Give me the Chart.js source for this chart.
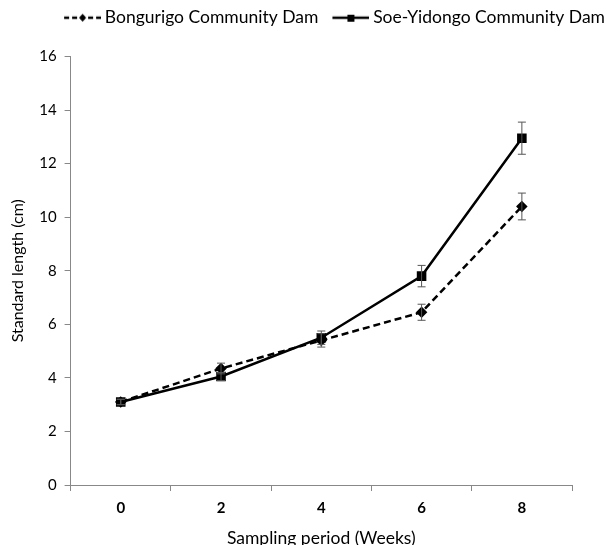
<!DOCTYPE html>
<html>
<head>
<meta charset="utf-8">
<script src="https://cdn.jsdelivr.net/npm/chart.js@4"></script>
<style>
  html, body { margin: 0; padding: 0; background: #fff; }
  #wrap { width: 607px; height: 545px; }
</style>
</head>
<body>
<div id="wrap"><canvas id="chart"></canvas></div>
<script>
// Sampling weeks (x categories)
const weeks = ['0', '2', '4', '6', '8'];

// Mean standard length (cm) per dam
const bongurigo = [3.1, 4.35, 5.4, 6.45, 10.4];
const soeYidongo = [3.1, 4.05, 5.5, 7.8, 12.95];

// Error bar half-widths (cm)
const bongurigoErr = [0.1, 0.2, 0.25, 0.3, 0.5];
const soeYidongoErr = [0.1, 0.15, 0.25, 0.4, 0.6];

const fontFamily = 'Lato, "Open Sans", sans-serif';

// Legend icons: a short line with the marker in the middle
// (blank on the left so the icon sits a bit right of the legend box)
function legendIcon(dashed, shape) {
    let c = document.createElement('canvas');
    c.width = 48;
    c.height = 12;
    let g = c.getContext('2d');
    g.strokeStyle = '#000';
    g.lineWidth = 2.5;
    if (dashed) g.setLineDash([5, 3]);
    g.beginPath();
    g.moveTo(11, 6);
    g.lineTo(48, 6);
    g.stroke();
    g.fillStyle = '#000';
    if (shape === 'diamond') {
        g.beginPath();
        g.moveTo(29.5, 2);
        g.lineTo(33, 6);
        g.lineTo(29.5, 10);
        g.lineTo(26, 6);
        g.closePath();
        g.fill();
    } else {
        g.fillRect(26, 3, 7, 7);
    }
    return c;
}

// Draws the error bars from the scales
const errorBars = {
    id: 'errorBars',
    afterDatasetsDraw(chart) {
        const ctx = chart.ctx;
        const yScale = chart.scales.y;
        chart.data.datasets.forEach((ds, i) => {
            const meta = chart.getDatasetMeta(i);
            meta.data.forEach((pt, j) => {
                const top = yScale.getPixelForValue(ds.data[j] + ds.errors[j]);
                const bot = yScale.getPixelForValue(ds.data[j] - ds.errors[j]);
                ctx.save();
                ctx.strokeStyle = '#555';
                ctx.lineWidth = 1;
                ctx.beginPath();
                ctx.moveTo(pt.x, top);
                ctx.lineTo(pt.x, bot);
                ctx.moveTo(pt.x - 4, top);
                ctx.lineTo(pt.x + 4, top);
                ctx.moveTo(pt.x - 4, bot);
                ctx.lineTo(pt.x + 4, bot);
                ctx.stroke();
                ctx.restore();
            });
        });
    }
};

let ctx = document.getElementById('chart');

new Chart(ctx, {
    type: 'line',
    data: {
        labels: weeks,
        datasets: [{
            label: 'Bongurigo Community Dam',
            data: bongurigo,
            errors: bongurigoErr,
            borderColor: '#000',
            backgroundColor: '#000',
            borderWidth: 2.5,
            borderDash: [7, 4],
            pointStyle: 'rectRot',
            pointRadius: 4,
            tension: 0
        }, {
            label: 'Soe-Yidongo Community Dam',
            data: soeYidongo,
            errors: soeYidongoErr,
            borderColor: '#000',
            backgroundColor: '#000',
            borderWidth: 2.5,
            pointStyle: 'rect',
            pointRadius: 5,
            tension: 0
        }]
    },
    options: {
        responsive: true,
        maintainAspectRatio: false,
        animation: false,
        layout: {
            padding: { left: 4, right: -6, top: 1, bottom: -4 }
        },
        plugins: {
            legend: {
                position: 'top',
                align: 'end',
                labels: {
                    color: '#000',
                    font: { family: fontFamily, size: 17.5 },
                    usePointStyle: true,
                    pointStyleWidth: 38,
                    padding: 8,
                    generateLabels(chart) {
                        return chart.data.datasets.map((ds, i) => ({
                            text: ds.label,
                            datasetIndex: i,
                            pointStyle: legendIcon(i === 0, i === 0 ? 'diamond' : 'square'),
                            fontColor: '#000',
                            hidden: false
                        }));
                    }
                }
            },
            tooltip: { enabled: false }
        },
        scales: {
            x: {
                offset: true,
                grid: {
                    offset: true,
                    drawOnChartArea: false,
                    color: '#888',
                    tickLength: 6
                },
                border: { color: '#888' },
                ticks: {
                    color: '#000',
                    font: { family: fontFamily, size: 15, weight: 'bold' },
                    padding: 8
                },
                title: {
                    display: true,
                    text: 'Sampling period (Weeks)',
                    color: '#000',
                    font: { family: fontFamily, size: 17.5 },
                    padding: { top: 3, bottom: 0 }
                }
            },
            // spacer between legend and plot
            xTop: {
                position: 'top',
                display: true,
                grid: { display: false },
                border: { display: false },
                ticks: { display: false },
                afterFit(scale) { scale.height = 20; }
            },
            y: {
                min: 0,
                max: 16,
                grid: {
                    drawOnChartArea: false,
                    color: '#888',
                    tickLength: 6
                },
                border: { color: '#888' },
                ticks: {
                    stepSize: 2,
                    color: '#000',
                    font: { family: fontFamily, size: 15 },
                    padding: 8
                },
                title: {
                    display: true,
                    text: 'Standard length (cm)',
                    color: '#000',
                    font: { family: fontFamily, size: 16 },
                    padding: { bottom: 4 }
                }
            },
            // spacer on the right of the plot
            yRight: {
                position: 'right',
                display: true,
                grid: { display: false },
                border: { display: false },
                ticks: { display: false },
                afterFit(scale) { scale.width = 41; }
            }
        }
    },
    plugins: [errorBars]
});
</script>
</body>
</html>
